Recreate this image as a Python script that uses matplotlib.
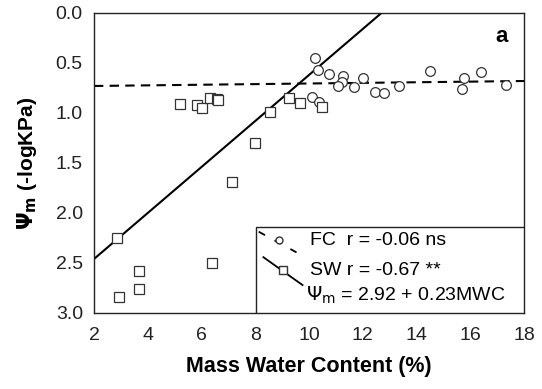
import matplotlib
matplotlib.use('Agg')
import matplotlib.pyplot as plt
import numpy as np
from matplotlib.lines import Line2D
from matplotlib.patches import Rectangle

plt.rcParams['font.family'] = ['Liberation Sans', 'DejaVu Sans']

# FC (field capacity) points - circles
fc_mwc = [10.22, 10.32, 10.76, 11.28, 11.23, 11.09, 11.67, 12.0, 12.44, 12.79,
          13.36, 14.5, 15.78, 15.70, 16.41, 17.33, 10.10, 10.37]
fc_psi = [0.45, 0.57, 0.61, 0.63, 0.69, 0.73, 0.74, 0.65, 0.79, 0.80,
          0.73, 0.58, 0.65, 0.76, 0.59, 0.72, 0.84, 0.89]

# SW points - squares
sw_mwc = [5.2, 5.82, 6.03, 6.32, 6.57, 6.63, 8.55, 7.99, 7.15, 9.27, 9.67, 10.48,
          2.87, 3.69, 3.69, 2.94, 6.39]
sw_psi = [0.91, 0.92, 0.95, 0.85, 0.86, 0.87, 0.99, 1.30, 1.69, 0.85, 0.90, 0.94,
          2.25, 2.58, 2.76, 2.84, 2.50]

# fitted lines (intercept, slope)
fc_fit = (0.736, -0.0031)
sw_fit = (2.92, -0.23)

fig = plt.figure(figsize=(5.42, 3.89), dpi=100)
ax = fig.add_axes([0.1734, 0.1954, 0.7934, 0.7712])

xs = np.array([2, 18])
ax.plot(xs, fc_fit[0] + fc_fit[1] * xs, color='black', linestyle=(0, (4.5, 3)), linewidth=1.5)
ax.plot(xs, sw_fit[0] + sw_fit[1] * xs, color='black', linewidth=1.5)

ax.plot(fc_mwc, fc_psi, 'o', markersize=7, markerfacecolor='white',
        markeredgecolor='#333333', markeredgewidth=0.9, linestyle='none')
ax.plot(sw_mwc, sw_psi, 's', markersize=6.5, markerfacecolor='white',
        markeredgecolor='#333333', markeredgewidth=0.9, linestyle='none')

ax.set_xlim(2, 18)
ax.set_ylim(3.0, 0.0)
ax.set_xticks(range(2, 19, 2))
ax.set_yticks([0.0, 0.5, 1.0, 1.5, 2.0, 2.5, 3.0])
ax.set_yticklabels(['0.0', '0.5', '1.0', '1.5', '2.0', '2.5', '3.0'])
ax.tick_params(length=0, labelsize=14, colors='#222222')
ax.tick_params(axis='y', pad=8)
ax.tick_params(axis='x', pad=10)
for s in ax.spines.values():
    s.set_linewidth(1.0)
    s.set_color('#222222')

ax.set_xlabel('Mass Water Content (%)', fontsize=15.5, fontweight='bold', labelpad=9)
ax.set_ylabel(r'$\mathbf{\Psi_m}$ (-logKPa)', fontsize=15, fontweight='bold', labelpad=12)

ax.text(0.948, 0.921, 'a', transform=ax.transAxes, fontsize=16, fontweight='bold',
        ha='center', va='center')

# hand-made legend box
tr = ax.transAxes
ax.add_patch(Rectangle((0.377, 0.0), 0.623, 0.288, transform=tr, facecolor='white',
                       edgecolor='#222222', linewidth=1.0, zorder=5))
ax.add_line(Line2D([0.383, 0.471], [0.271, 0.202], transform=tr, color='black',
                   linestyle=(0, (4, 6)), linewidth=1.3, zorder=6))
ax.add_line(Line2D([0.431], [0.243], transform=tr, marker='o', markersize=5,
                   markerfacecolor='white', markeredgecolor='#333333', zorder=7))
ax.add_line(Line2D([0.394, 0.485], [0.186, 0.093], transform=tr, color='black',
                   linewidth=1.3, zorder=6))
ax.add_line(Line2D([0.440], [0.143], transform=tr, marker='s', markersize=6,
                   markerfacecolor='white', markeredgecolor='#333333', zorder=7))
ax.text(0.502, 0.243, 'FC  r = -0.06 ns', transform=tr, fontsize=14, va='center', zorder=8)
ax.text(0.502, 0.143, 'SW r = -0.67 **', transform=tr, fontsize=14, va='center', zorder=8)
ax.text(0.493, 0.06, r'$\Psi_\mathrm{m}$ = 2.92 + 0.23MWC', transform=tr, fontsize=14,
        va='center', zorder=8)

fig.savefig('out.png', dpi=100)
